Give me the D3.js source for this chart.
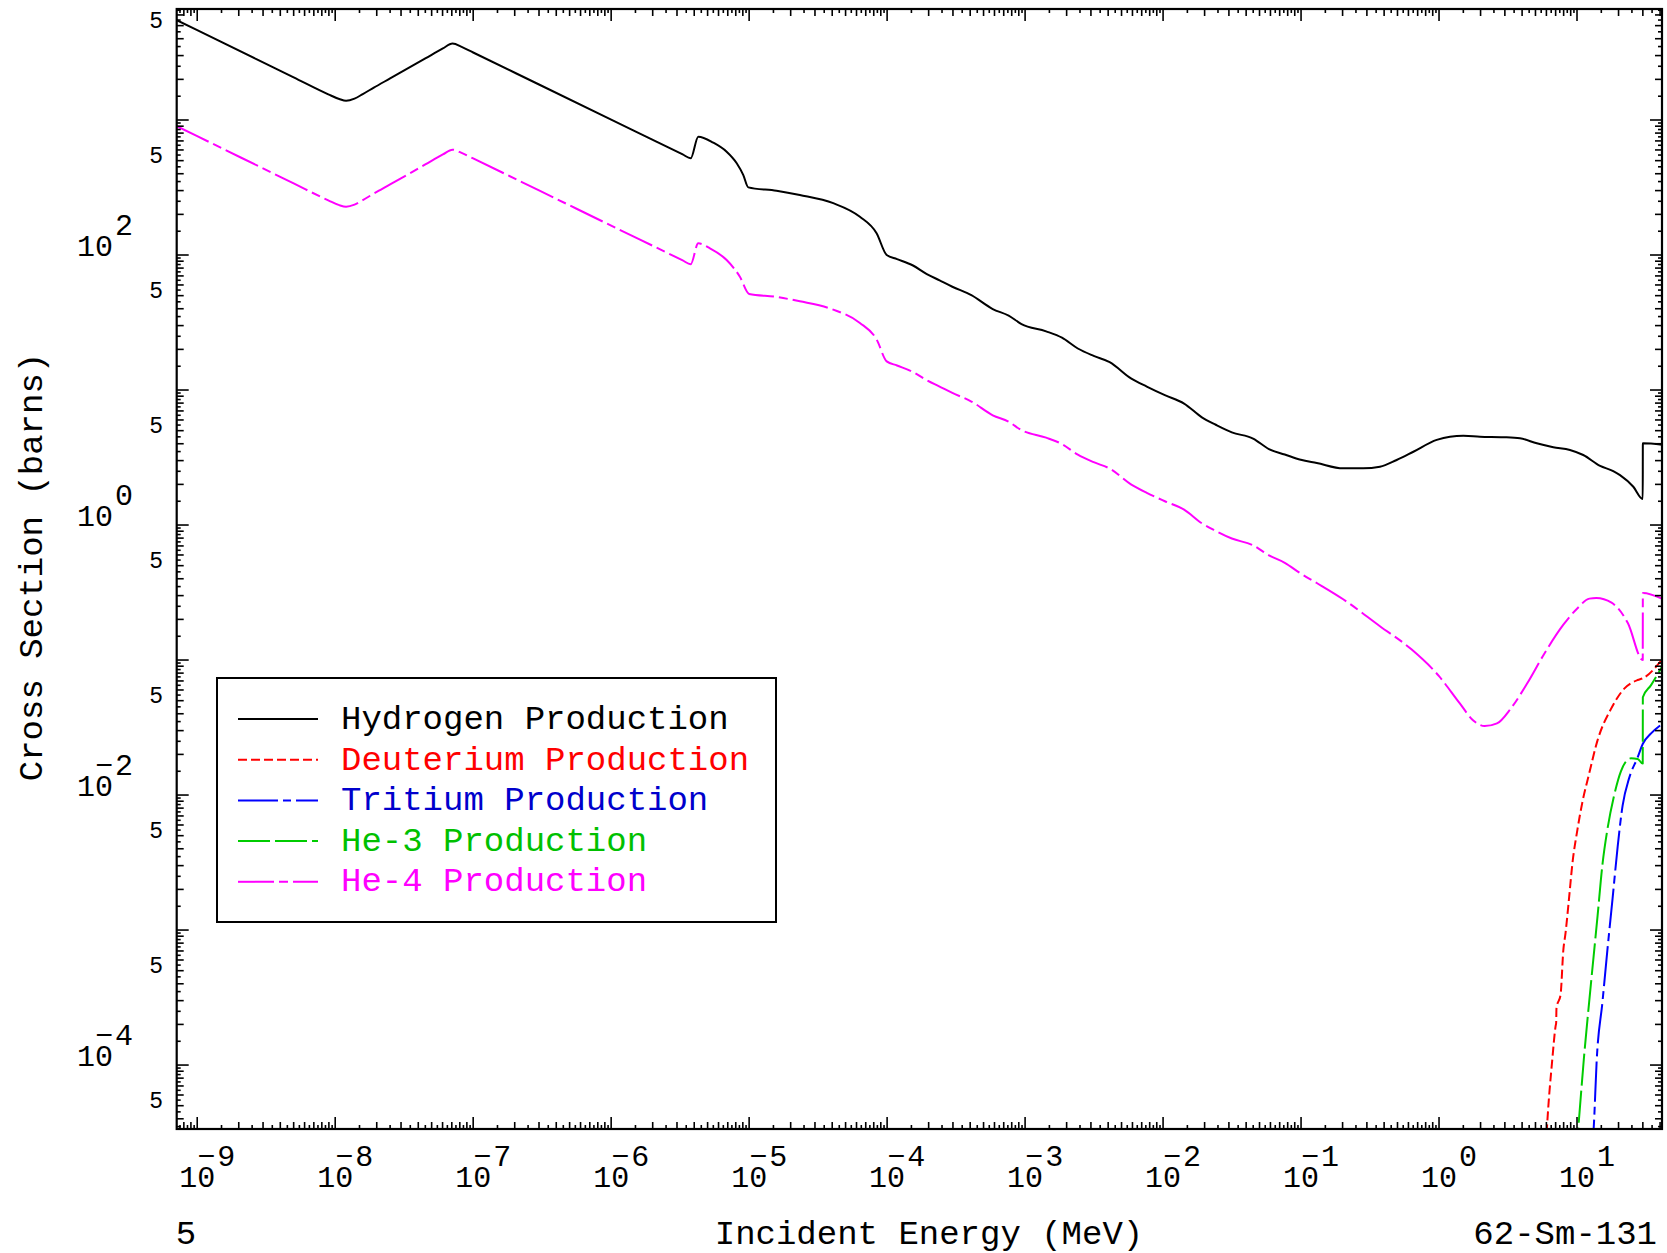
<!DOCTYPE html>
<html>
<head>
<meta charset="utf-8">
<script src="https://cdn.jsdelivr.net/npm/d3@7"></script>
<style>
  body { margin: 0; background: #fff; }
  text { font-family: "Liberation Mono", "DejaVu Sans Mono", monospace; }
</style>
</head>
<body>
<script>
// ---- data (energy in MeV, cross section in barns) ----
let hydE = [7.05e-10, 1.0e-9, 5.0e-9, 8.91e-9, 1.07e-8, 1.20e-8, 1.38e-8, 1.585e-8, 1.905e-8, 2.5e-8, 4.5e-8,
    6.03e-8, 7.08e-8, 8.32e-8, 1.0e-7, 3.0e-7, 1.0e-6, 3.3e-6,
    3.77e-6, 4.28e-6, 5.50e-6, 6.87e-6, 8.13e-6, 9.06e-6, 9.86e-6, 1.58e-5, 2.33e-5, 4.07e-5,
    6.35e-5, 8.39e-5, 9.93e-5, 1.18e-4, 1.54e-4, 1.94e-4, 2.40e-4, 2.97e-4, 4.08e-4, 5.83e-4,
    7.60e-4, 9.42e-4, 1.42e-3, 1.85e-3, 2.41e-3, 3.14e-3, 4.10e-3, 5.85e-3, 7.62e-3, 1.03e-2,
    1.42e-2, 1.91e-2, 2.41e-2, 3.15e-2, 4.49e-2, 5.85e-2, 7.62e-2, 9.95e-2, 0.130, 0.202,
    0.282, 0.373, 0.493, 0.652, 0.962, 1.20, 1.50, 1.98, 2.92, 3.86, 5.11, 6.73, 8.89, 11.1,
    14.7, 18.3, 20.5, 25.6, 29.95, 30.0, 42.2];
let hydXS = [5508, 4624, 2068, 1549, 1429, 1387, 1439, 1556, 1738, 2032, 2858,
    3388, 3681, 3467, 3162, 1832, 1007, 556,
    520, 752, 679, 582, 478, 392, 317, 299, 278, 242,
    192, 145, 100, 93.3, 83.6, 72.3, 64.9, 58.2, 50.4, 39.8,
    35.6, 30.8, 27.2, 24.4, 20.3, 17.9, 16.1, 12.2, 10.6, 9.16,
    7.94, 6.28, 5.53, 4.86, 4.37, 3.65, 3.33, 3.04, 2.88, 2.63,
    2.63, 2.70, 3.03, 3.49, 4.27, 4.51, 4.58, 4.51, 4.47, 4.39, 4.03, 3.77, 3.60, 3.30,
    2.74, 2.51, 2.34, 1.92, 1.56, 4.03, 3.92];

let deutE = [5.89, 6.05, 6.62, 7.00, 7.06, 7.10, 7.60, 7.96, 8.26, 8.75, 9.25, 10.07,
    10.94, 12.2, 14.1, 17.6, 22.0, 27.5, 30.0, 42.2];
let deutXS = [2.0e-5, 3.36e-5, 1.10e-4, 1.95e-4, 2.05e-4, 2.65e-4, 3.32e-4, 7.11e-4,
    9.53e-4, 1.71e-3, 3.08e-3, 5.55e-3, 8.87e-3, 1.42e-2, 2.55e-2, 4.33e-2, 6.14e-2, 7.11e-2,
    7.33e-2, 0.104];

let tritE = [12.6, 13.2, 13.9, 15.3, 16.6, 18.1, 19.7, 21.4, 23.9, 27.5, 30.0, 34.4, 42.2];
let tritXS = [2.0e-5, 3.36e-5, 1.10e-4, 2.95e-4, 7.11e-4, 1.71e-3, 4.13e-3, 8.36e-3, 1.34e-2,
    1.90e-2, 2.40e-2, 2.86e-2, 3.41e-2];

let he3E = [9.77, 10.2, 11.2, 12.6, 14.1, 15.3, 16.6, 18.6, 20.8, 24.6, 27.5, 29.95, 30.0, 34.4, 42.2];
let he3XS = [2.0e-5, 3.36e-5, 1.10e-4, 3.95e-4, 1.28e-3, 3.08e-3, 5.55e-3, 9.98e-3, 1.50e-2,
    1.87e-2, 1.85e-2, 1.71e-2, 5.30e-2, 6.52e-2, 9.27e-2];

let he4E = [7.05e-10, 1.0e-9, 5.0e-9, 8.91e-9, 1.07e-8, 1.20e-8, 1.38e-8, 1.585e-8, 1.905e-8, 2.5e-8, 4.5e-8,
    6.03e-8, 7.08e-8, 8.32e-8, 1.0e-7, 3.0e-7, 1.0e-6, 3.3e-6,
    3.77e-6, 4.28e-6, 5.20e-6, 6.87e-6, 8.57e-6, 1.0e-5, 1.58e-5, 2.33e-5, 4.07e-5, 6.35e-5,
    8.39e-5, 9.93e-5, 1.18e-4, 1.54e-4, 1.94e-4, 2.40e-4, 2.97e-4, 4.08e-4, 5.83e-4, 7.60e-4,
    9.42e-4, 1.42e-3, 1.85e-3, 2.41e-3, 3.14e-3, 4.10e-3, 5.85e-3, 7.62e-3, 1.03e-2, 1.42e-2,
    1.91e-2, 2.41e-2, 3.15e-2, 4.49e-2, 5.85e-2, 7.62e-2, 9.95e-2, 0.130, 0.202, 0.373, 0.631,
    1.00, 1.41, 1.78, 2.14, 2.63, 3.31, 4.37, 5.75, 7.94, 10.0, 12.3, 13.8, 17.8, 23.4, 29.95,
    30.0, 42.2];
let he4XS = [904, 759, 339, 254, 234, 228, 236, 255, 285, 333, 469,
    556, 603, 568, 519, 301, 165, 91.2,
    85.3, 122, 112, 91.8, 69.0, 51.4, 48.9, 45.4, 39.4, 31.4,
    23.7, 16.3, 15.2, 13.6, 11.8, 10.6, 9.51, 8.22, 6.50, 5.82,
    5.04, 4.44, 3.98, 3.32, 2.92, 2.62, 2.00, 1.73, 1.50, 1.30,
    1.03, 0.904, 0.794, 0.708, 0.596, 0.525, 0.437, 0.372, 0.282, 0.178, 0.120,
    0.0759, 0.0479, 0.0355, 0.0324, 0.0339, 0.0437, 0.0676, 0.110, 0.182, 0.240, 0.285, 0.288, 0.266, 0.187, 0.100,
    0.314, 0.282];

let seriesNames = ["Hydrogen Production", "Deuterium Production", "Tritium Production",
    "He-3 Production", "He-4 Production"];

// tick labels
let xDecades = [-9, -8, -7, -6, -5, -4, -3, -2, -1, 0, 1];
let yDecadeLabels = [2, 0, -2, -4];
let yFiveLabels = [3, 2, 1, 0, -1, -2, -3, -4, -5];

// ---- layout ----
let w = 1667, h = 1253;
let pLeft = 176.7, pRight = 1662, pTop = 9, pBottom = 1129;

let xScale = d3.scaleLog().domain([7.1e-10, 41.3]).range([pLeft, pRight]);
let yScale = d3.scaleLog().domain([3.36e-5, 6640]).range([pBottom, pTop]);

let svg = d3.select("body").append("svg")
    .attr("width", w)
    .attr("height", h);

svg.append("rect").attr("width", w).attr("height", h).attr("fill", "#fff");

svg.append("clipPath").attr("id", "plot")
    .append("rect")
    .attr("x", pLeft).attr("y", pTop)
    .attr("width", pRight - pLeft).attr("height", pBottom - pTop);

// ---- curves ----
let series = [
    { e: hydE, xs: hydXS, color: "#000000", dash: null },
    { e: deutE, xs: deutXS, color: "#ff0000", dash: "9,4" },
    { e: tritE, xs: tritXS, color: "#0000ff", dash: "40,5,8,5" },
    { e: he3E, xs: he3XS, color: "#00cc00", dash: "32,5" },
    { e: he4E, xs: he4XS, color: "#ff00ff", dash: "36,5,9,5" }
];
let textColors = ["#000000", "#ff0000", "#0000cc", "#00c000", "#ff00ff"];

let line = d3.line()
    .x(function(d) { return xScale(d[0]); })
    .y(function(d) { return yScale(d[1]); })
    .curve(d3.curveMonotoneX);

let curves = svg.append("g").attr("clip-path", "url(#plot)");
series.forEach(function(s) {
    let pts = s.e.map(function(e, i) { return [e, s.xs[i]]; });
    curves.append("path")
        .datum(pts)
        .attr("d", line)
        .attr("fill", "none")
        .attr("stroke", s.color)
        .attr("stroke-width", 2)
        .attr("stroke-linejoin", "round")
        .attr("stroke-dasharray", s.dash);
});

// ---- frame and ticks ----
let axisG = svg.append("g").attr("stroke", "#000").attr("stroke-width", 1.6);

function tickList(lo, hi, scale) {
    let out = [];
    let dom = scale.domain();
    for (let k = lo; k <= hi; k++) {
        for (let m = 1; m < 10; m += 0.5) {
            let v = m * Math.pow(10, k);
            if (v >= dom[0] && v <= dom[1]) {
                out.push({ v: v, len: m === 1 ? 12 : (m % 1 === 0 ? 7 : 4) });
            }
        }
    }
    return out;
}

let xt = tickList(-10, 1, xScale);
let yt = tickList(-5, 3, yScale);

xt.forEach(function(t) {
    let px = xScale(t.v);
    axisG.append("line").attr("x1", px).attr("x2", px).attr("y1", pBottom).attr("y2", pBottom - t.len);
    axisG.append("line").attr("x1", px).attr("x2", px).attr("y1", pTop).attr("y2", pTop + t.len);
});
yt.forEach(function(t) {
    let py = yScale(t.v);
    axisG.append("line").attr("y1", py).attr("y2", py).attr("x1", pLeft).attr("x2", pLeft + t.len);
    axisG.append("line").attr("y1", py).attr("y2", py).attr("x1", pRight).attr("x2", pRight - t.len);
});

svg.append("rect")
    .attr("x", pLeft).attr("y", pTop)
    .attr("width", pRight - pLeft).attr("height", pBottom - pTop)
    .attr("fill", "none").attr("stroke", "#000").attr("stroke-width", 2.2);

// ---- tick labels: "10" with the exponent raised, minus sitting over the 0 ----
let lab = svg.append("g").attr("fill", "#000");

function powerLabel(x0, yBase, k) {
    let t = lab.append("text").attr("x", x0).attr("y", yBase).attr("font-size", 30);
    t.append("tspan").text("10");
    if (k < 0) {
        t.append("tspan").attr("dx", -18).attr("dy", -21).text("\u2212");
        t.append("tspan").attr("dx", 2).text(Math.abs(k));
    } else {
        t.append("tspan").attr("dx", 2).attr("dy", -21).text(k);
    }
}

xDecades.forEach(function(k) {
    powerLabel(xScale(Math.pow(10, k)) - 18, 1187, k);
});

yDecadeLabels.forEach(function(k) {
    powerLabel(77, yScale(Math.pow(10, k)) + 1, k);
});

yFiveLabels.forEach(function(k) {
    let py = yScale(5 * Math.pow(10, k));
    lab.append("text").attr("x", 163).attr("y", py + 2)
        .attr("text-anchor", "end").attr("font-size", 23).text("5");
});

// ---- titles ----
svg.append("text")
    .attr("transform", "translate(42,567) rotate(-90)")
    .attr("text-anchor", "middle").attr("font-size", 34)
    .text("Cross Section (barns)");

svg.append("text").attr("x", 929).attr("y", 1244)
    .attr("text-anchor", "middle").attr("font-size", 34)
    .text("Incident Energy (MeV)");

svg.append("text").attr("x", 1657).attr("y", 1244)
    .attr("text-anchor", "end").attr("font-size", 34)
    .text("62-Sm-131");

svg.append("text").attr("x", 186).attr("y", 1244)
    .attr("text-anchor", "middle").attr("font-size", 34)
    .text("5");

// ---- legend ----
let legend = svg.append("g");
legend.append("rect")
    .attr("x", 217).attr("y", 678).attr("width", 559).attr("height", 244)
    .attr("fill", "#fff").attr("stroke", "#000").attr("stroke-width", 2);

seriesNames.forEach(function(name, i) {
    let ly = 719 + i * 40.7;
    legend.append("line")
        .attr("x1", 238).attr("x2", 318).attr("y1", ly).attr("y2", ly)
        .attr("stroke", series[i].color).attr("stroke-width", 2)
        .attr("stroke-dasharray", series[i].dash);
    legend.append("text")
        .attr("x", 341).attr("y", 729 + i * 40.6)
        .attr("font-size", 34).attr("fill", textColors[i])
        .text(name);
});
</script>
</body>
</html>
